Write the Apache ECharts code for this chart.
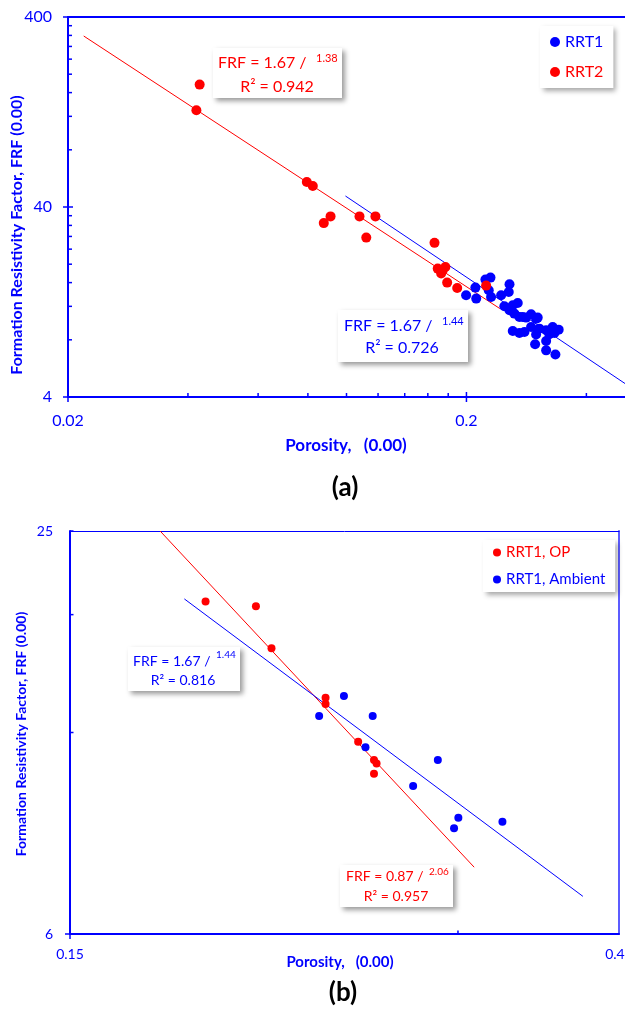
<!DOCTYPE html>
<html>
<head>
<meta charset="utf-8">
<script src="https://cdn.jsdelivr.net/npm/echarts@6/dist/echarts.min.js"></script>
<style>
  html, body { margin: 0; padding: 0; background: #ffffff; }
  #chart { width: 625px; height: 1013px; }
</style>
</head>
<body>
<div id="chart"></div>
<script>
// ---------- Panel (a): porosity vs formation resistivity factor ----------
const rrt1Porosity = [0.1996, 0.2106, 0.2116, 0.2232, 0.2298, 0.2275, 0.2306, 0.2444, 0.2565, 0.2554,
  0.2490, 0.2565, 0.2614, 0.2638, 0.2690, 0.2716, 0.2768, 0.2823, 0.2906, 0.2991,
  0.3019, 0.2614, 0.2716, 0.2796, 0.2906, 0.2991, 0.3049, 0.3170, 0.3230, 0.3292,
  0.3408, 0.3325, 0.2974, 0.3170, 0.3170, 0.3344];
const rrt1Frf = [13.72, 15.06, 13.18, 16.59, 17.0, 14.58, 13.44, 13.72, 15.67, 14.28,
  12.01, 11.44, 12.15, 10.99, 12.49, 10.55, 10.55, 10.47, 10.90, 10.34,
  10.47, 8.90, 8.69, 8.79, 9.34, 8.54, 9.16, 8.98, 8.55, 9.34,
  9.05, 8.69, 7.58, 7.88, 7.04, 6.69];

const rrt2Porosity = [0.0428, 0.0420, 0.0795, 0.0823, 0.0877, 0.0912, 0.1078, 0.1182, 0.1121,
  0.1663, 0.1694, 0.1744, 0.1771, 0.1728, 0.1789, 0.1896, 0.2241];
const rrt2Frf = [176.3, 129.2, 54.2, 51.6, 32.9, 35.7, 35.7, 35.7, 27.6,
  25.9, 18.96, 18.57, 19.33, 17.85, 16.0, 14.99, 15.43];

// power-law trend lines (end points)
const rrt1FitPorosity = [0.0994, 0.5];
const rrt1FitFrf = [45.7, 4.71];
const rrt2FitPorosity = [0.0219, 0.2426];
const rrt2FitFrf = [317.7, 11.68];

// axis ticks
const xMajorA = [0.02, 0.2];
const xMajorLabelA = ['0.02', '0.2'];
const xMinorA = [0.04, 0.06, 0.08, 0.10, 0.12, 0.14, 0.16, 0.18, 0.4];
const yMajorA = [4, 40, 400];
const yMajorLabelA = ['4', '40', '400'];
const yMinorA = [8, 12, 16, 20, 24, 28, 32, 36, 80, 120, 160, 200, 240, 280, 320, 360];

// ---------- Panel (b): RRT1 at overburden pressure vs ambient ----------
const opPorosity = [0.1911, 0.2091, 0.2150, 0.2368, 0.2368, 0.2510, 0.2582, 0.2594, 0.2582];
const opFrf = [18.83, 18.53, 16.03, 13.52, 13.24, 11.62, 10.92, 10.79, 10.41];
const ambientPorosity = [0.2341, 0.2447, 0.2576, 0.2543, 0.2894, 0.2769, 0.3002, 0.2979, 0.3248];
const ambientFrf = [12.70, 13.60, 12.70, 11.41, 10.92, 9.98, 8.95, 8.63, 8.83];

const opFitPorosity = [0.1762, 0.3088];
const opFitFrf = [24.0, 7.55];
const ambientFitPorosity = [0.184, 0.375];
const ambientFitFrf = [19.0, 6.83];

const xMajorB = [0.15];
const xMajorLabelB = ['0.15'];
const xEndLabelB = '0.40';
const xMinorB = [0.30];
const yMajorB = [6];
const yMajorLabelB = ['6'];
const yTopLabelB = '25';
const yMinorB = [12, 18, 24];

// trend-line annotations
const noteRrt2 = ['FRF = 1.67 /', '1.38', 'R\u00b2 = 0.942'];
const noteRrt1 = ['FRF = 1.67 /', '1.44', 'R\u00b2 = 0.726'];
const noteAmbient = ['FRF = 1.67 /', '1.44', 'R\u00b2 = 0.816'];
const noteOp = ['FRF = 0.87 /', '2.06', 'R\u00b2 = 0.957'];

const BLUE = '#0000ff';
const RED = '#ff0000';
const FONT = 'Lato, "Open Sans", sans-serif';

const zip = (xs, ys) => xs.map((x, i) => [x, ys[i]]);

// Builds tick definitions for one panel
function buildTicks(xMajor, xMajorLabel, xMinor, yMajor, yMajorLabel, yMinor, extraLabels) {
  const defs = [];
  xMajor.forEach((v, i) => defs.push({ dim: 'x', v: v, tick: 'major', label: xMajorLabel[i] }));
  xMinor.forEach(v => defs.push({ dim: 'x', v: v, tick: 'minor', label: null }));
  yMajor.forEach((v, i) => defs.push({ dim: 'y', v: v, tick: 'major', label: yMajorLabel[i] }));
  yMinor.forEach(v => defs.push({ dim: 'y', v: v, tick: 'minor', label: null }));
  (extraLabels || []).forEach(d => defs.push(d));
  return defs;
}

function tickSeries(defs, xIdx, yIdx, xMin, yMin, st) {
  return {
    type: 'custom',
    xAxisIndex: xIdx,
    yAxisIndex: yIdx,
    silent: true,
    clip: false,
    z: 5,
    data: defs.map(d => d.dim === 'x' ? [d.v, yMin] : [xMin, d.v]),
    renderItem: function (params, api) {
      const d = defs[params.dataIndex];
      const p = api.coord([api.value(0), api.value(1)]);
      const children = [];
      const lineStyle = { stroke: BLUE, lineWidth: 1.5 };
      if (d.dim === 'x') {
        if (d.tick === 'major') {
          children.push({ type: 'line', shape: { x1: p[0], y1: p[1] - st.major, x2: p[0], y2: p[1] + st.major }, style: lineStyle });
        } else if (d.tick === 'minor') {
          children.push({ type: 'line', shape: { x1: p[0], y1: p[1], x2: p[0], y2: p[1] - st.minor }, style: lineStyle });
        }
        if (d.label) {
          children.push({ type: 'text', x: p[0], y: p[1] + st.xGap,
            style: { text: d.label, fill: BLUE, font: st.font, align: 'center', verticalAlign: 'middle' } });
        }
      } else {
        if (d.tick === 'major') {
          children.push({ type: 'line', shape: { x1: p[0] - st.major, y1: p[1], x2: p[0] + st.major, y2: p[1] }, style: lineStyle });
        } else if (d.tick === 'minor') {
          children.push({ type: 'line', shape: { x1: p[0], y1: p[1], x2: p[0] + st.minor, y2: p[1] }, style: lineStyle });
        }
        if (d.label) {
          children.push({ type: 'text', x: p[0] - st.yGap, y: p[1],
            style: { text: d.label, fill: BLUE, font: st.font, align: 'right', verticalAlign: 'middle' } });
        }
      }
      return { type: 'group', children: children };
    }
  };
}

const ticksA = buildTicks(xMajorA, xMajorLabelA, xMinorA, yMajorA, yMajorLabelA, yMinorA);
const ticksB = buildTicks(xMajorB, xMajorLabelB, xMinorB, yMajorB, yMajorLabelB, yMinorB, [
  { dim: 'x', v: 0.40, tick: null, label: xEndLabelB },
  { dim: 'y', v: 24, tick: null, label: yTopLabelB }
]);

// White annotation box with a soft drop shadow
function noteBox(box, texts, color, pos, size) {
  return {
    type: 'group',
    children: [
      { type: 'rect', shape: { x: box[0], y: box[1], width: box[2], height: box[3] },
        style: { fill: '#ffffff', shadowBlur: 5, shadowOffsetX: 3, shadowOffsetY: 3, shadowColor: 'rgba(0,0,0,0.4)' } },
      { type: 'text', x: pos[0], y: pos[1],
        style: { text: texts[0], fill: color, font: size[0] + 'px ' + FONT, align: 'left', verticalAlign: 'middle' } },
      { type: 'text', x: pos[2], y: pos[3],
        style: { text: texts[1], fill: color, font: size[1] + 'px ' + FONT, align: 'left', verticalAlign: 'middle' } },
      { type: 'text', x: pos[4], y: pos[5],
        style: { text: texts[2], fill: color, font: size[0] + 'px ' + FONT, align: 'center', verticalAlign: 'middle' } }
    ]
  };
}

function axisLine(color, width) {
  return { show: true, onZero: false, lineStyle: { color: color, width: width } };
}
const hidden = { axisTick: { show: false }, axisLabel: { show: false }, splitLine: { show: false }, minorTick: { show: false } };

const option = {
  backgroundColor: '#ffffff',
  animation: false,
  grid: [
    { left: 68, top: 17, width: 558, height: 380 },
    { left: 70, top: 531, width: 549, height: 403 }
  ],
  xAxis: [
    Object.assign({ gridIndex: 0, type: 'log', logBase: 10, min: 0.02, max: 0.5, axisLine: axisLine(BLUE, 2) }, hidden),
    Object.assign({ gridIndex: 0, type: 'log', logBase: 10, min: 0.02, max: 0.5, position: 'top', axisLine: axisLine(BLUE, 2) }, hidden),
    Object.assign({ gridIndex: 1, type: 'log', logBase: 10, min: 0.15, max: 0.4, axisLine: axisLine(BLUE, 2) }, hidden),
    Object.assign({ gridIndex: 1, type: 'log', logBase: 10, min: 0.15, max: 0.4, position: 'top', axisLine: axisLine(BLUE, 1) }, hidden)
  ],
  yAxis: [
    Object.assign({ gridIndex: 0, type: 'log', logBase: 10, min: 4, max: 400, axisLine: axisLine(BLUE, 2) }, hidden),
    Object.assign({ gridIndex: 1, type: 'log', logBase: 10, min: 6, max: 24, axisLine: axisLine(BLUE, 2) }, hidden),
    Object.assign({ gridIndex: 1, type: 'log', logBase: 10, min: 6, max: 24, position: 'right', axisLine: axisLine('#5c5cff', 2) }, hidden)
  ],
  legend: [
    {
      data: [{ name: 'RRT1', textStyle: { color: BLUE } }, { name: 'RRT2', textStyle: { color: RED } }],
      orient: 'vertical', left: 540, top: 26,
      padding: [8, 10, 8, 10], itemGap: 14, itemWidth: 10, itemHeight: 10, icon: 'circle',
      selectedMode: false, backgroundColor: '#ffffff',
      shadowBlur: 5, shadowOffsetX: 3, shadowOffsetY: 3, shadowColor: 'rgba(0,0,0,0.35)',
      textStyle: { fontFamily: FONT, fontSize: 16 }
    },
    {
      data: [{ name: 'RRT1, OP', textStyle: { color: RED } }, { name: 'RRT1, Ambient', textStyle: { color: BLUE } }],
      orient: 'vertical', left: 483, top: 540,
      padding: [5, 10, 5, 10], itemGap: 12, itemWidth: 8, itemHeight: 8, icon: 'circle',
      selectedMode: false, backgroundColor: '#ffffff',
      shadowBlur: 5, shadowOffsetX: 3, shadowOffsetY: 3, shadowColor: 'rgba(0,0,0,0.35)',
      textStyle: { fontFamily: FONT, fontSize: 15 }
    }
  ],
  series: [
    // panel (a)
    { type: 'line', name: 'RRT1 trend', xAxisIndex: 0, yAxisIndex: 0, data: zip(rrt1FitPorosity, rrt1FitFrf),
      symbol: 'none', silent: true, lineStyle: { color: BLUE, width: 1 }, z: 2 },
    { type: 'line', name: 'RRT2 trend', xAxisIndex: 0, yAxisIndex: 0, data: zip(rrt2FitPorosity, rrt2FitFrf),
      symbol: 'none', silent: true, lineStyle: { color: RED, width: 1 }, z: 2 },
    { type: 'scatter', name: 'RRT1', xAxisIndex: 0, yAxisIndex: 0, data: zip(rrt1Porosity, rrt1Frf),
      symbolSize: 10, itemStyle: { color: BLUE, opacity: 1 }, z: 3 },
    { type: 'scatter', name: 'RRT2', xAxisIndex: 0, yAxisIndex: 0, data: zip(rrt2Porosity, rrt2Frf),
      symbolSize: 10, itemStyle: { color: RED, opacity: 1 }, z: 3 },
    tickSeries(ticksA, 0, 0, 0.02, 4, { major: 5, minor: 4, xGap: 24, yGap: 16, font: '16px ' + FONT }),
    // panel (b)
    { type: 'line', name: 'RRT1, OP trend', xAxisIndex: 2, yAxisIndex: 1, data: zip(opFitPorosity, opFitFrf),
      symbol: 'none', silent: true, lineStyle: { color: RED, width: 1 }, z: 2 },
    { type: 'line', name: 'RRT1, Ambient trend', xAxisIndex: 2, yAxisIndex: 1, data: zip(ambientFitPorosity, ambientFitFrf),
      symbol: 'none', silent: true, lineStyle: { color: BLUE, width: 1 }, z: 2 },
    { type: 'scatter', name: 'RRT1, OP', xAxisIndex: 2, yAxisIndex: 1, data: zip(opPorosity, opFrf),
      symbolSize: 8, itemStyle: { color: RED, opacity: 1 }, z: 3 },
    { type: 'scatter', name: 'RRT1, Ambient', xAxisIndex: 2, yAxisIndex: 1, data: zip(ambientPorosity, ambientFrf),
      symbolSize: 8, itemStyle: { color: BLUE, opacity: 1 }, z: 3 },
    tickSeries(ticksB, 2, 1, 0.15, 6, { major: 5, minor: 3.5, xGap: 20, yGap: 17, font: '14px ' + FONT })
  ],
  graphic: {
    elements: [
      noteBox([213, 48, 129, 50], noteRrt2, RED, [218, 63, 316, 58, 277, 87], [16, 11]),
      noteBox([338, 310, 130, 52], noteRrt1, BLUE, [344, 326, 442, 321, 402, 348], [16, 11]),
      noteBox([128, 647, 112, 44], noteAmbient, BLUE, [133, 661, 216, 655, 183, 680], [14, 10]),
      noteBox([340, 865, 113, 42], noteOp, RED, [346, 876, 429, 872, 396, 896], [14, 10]),
      { type: 'text', x: 17, y: 235, rotation: Math.PI / 2,
        style: { text: 'Formation Resistivity Factor, FRF (0.00)', fill: BLUE, font: 'bold 16px ' + FONT, align: 'center', verticalAlign: 'middle' } },
      { type: 'text', x: 346, y: 446,
        style: { text: 'Porosity,   (0.00)', fill: BLUE, font: 'bold 17px ' + FONT, align: 'center', verticalAlign: 'middle' } },
      { type: 'text', x: 345, y: 488,
        style: { text: '(a)', fill: '#000000', font: 'bold 26px ' + FONT, align: 'center', verticalAlign: 'middle' } },
      { type: 'text', x: 21, y: 734, rotation: Math.PI / 2,
        style: { text: 'Formation Resistivity Factor, FRF (0.00)', fill: BLUE, font: 'bold 14px ' + FONT, align: 'center', verticalAlign: 'middle' } },
      { type: 'text', x: 340, y: 962,
        style: { text: 'Porosity,   (0.00)', fill: BLUE, font: 'bold 15px ' + FONT, align: 'center', verticalAlign: 'middle' } },
      { type: 'text', x: 343, y: 993,
        style: { text: '(b)', fill: '#000000', font: 'bold 26px ' + FONT, align: 'center', verticalAlign: 'middle' } }
    ]
  }
};

const chart = echarts.init(document.getElementById('chart'), null, { renderer: 'canvas' });
chart.setOption(option);
</script>
</body>
</html>
